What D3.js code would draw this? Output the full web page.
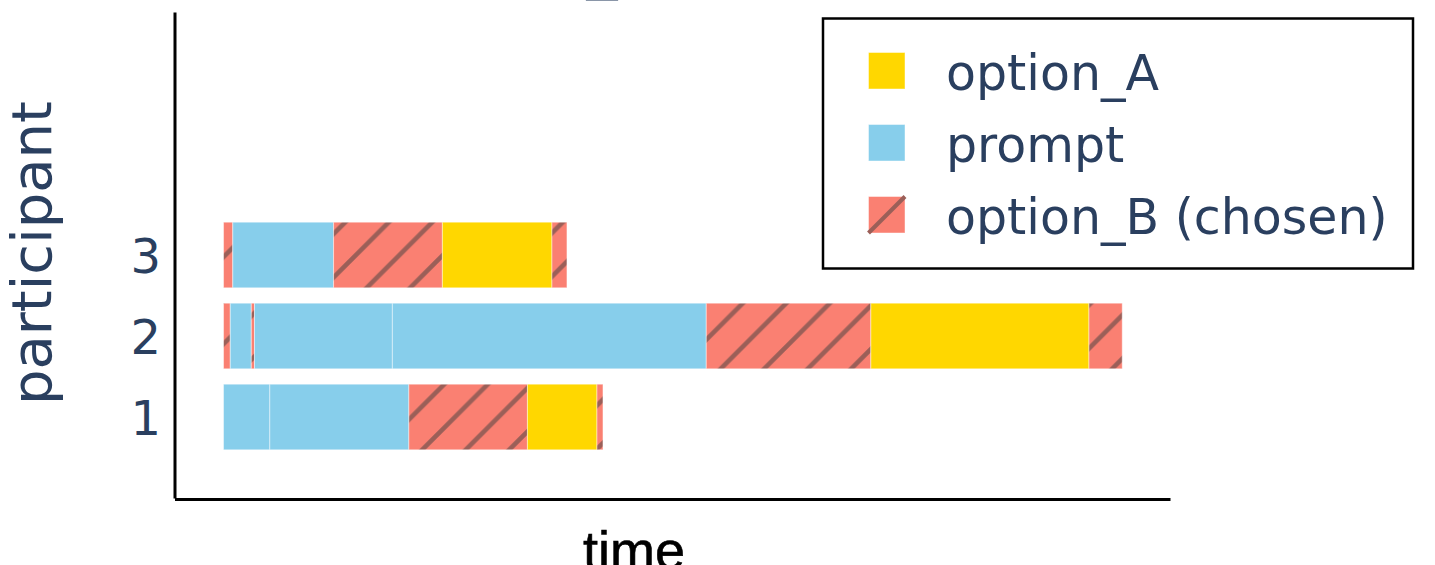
<!doctype html>
<html lang="en">
<head>
<meta charset="utf-8">
<title>participant timeline</title>
<style>
  body { margin: 0; background: #fff; }
  svg { display: block; }
  .axis text { font-family: "DejaVu Sans", Verdana, sans-serif; fill: #2a3f5f; }
</style>
<script src="https://d3js.org/d3.v7.min.js"></script>
</head>
<body>
<div id="chart"></div>
<script>
// participants on the y axis
var participants = [1, 2, 3];

// legend order and labels
var phases = ["option_A", "prompt", "option_B"];
var phaseLabels = ["option_A", "prompt", "option_B (chosen)"];
var phaseColors = ["#FFD700", "#87CEEB", "#FA8072"];

// one entry per segment (time in seconds)
var segParticipant = [3, 3, 3, 3, 3,
                      2, 2, 2, 2, 2, 2, 2, 2,
                      1, 1, 1, 1, 1];
var segPhase = ["option_B", "prompt", "option_B", "option_A", "option_B",
                "option_B", "prompt", "option_B", "prompt", "prompt", "option_B", "option_A", "option_B",
                "prompt", "prompt", "option_B", "option_A", "option_B"];
var segStart = [0, 0.37, 4.4, 8.75, 13.13,
                0, 0.27, 1.11, 1.24, 6.75, 19.3, 25.88, 34.6,
                0, 1.85, 7.41, 12.15, 14.93];
var segEnd = [0.37, 4.4, 8.75, 13.13, 13.73,
              0.27, 1.11, 1.24, 6.75, 19.3, 25.88, 34.6, 35.93,
              1.85, 7.41, 12.15, 14.93, 15.17];

var W = 1435, H = 565;

var svg = d3.select("#chart").append("svg")
  .attr("width", W)
  .attr("height", H);

// hatch for the chosen option
var defs = svg.append("defs");
var hatch = defs.append("pattern")
  .attr("id", "hatch")
  .attr("patternUnits", "userSpaceOnUse")
  .attr("width", 43.5)
  .attr("height", 43.5)
  .attr("x", 2);
hatch.append("rect").attr("width", 43.5).attr("height", 43.5).attr("fill", "#FA8072");
hatch.append("path")
  .attr("d", "M-5,48.5 L48.5,-5 M-5,5 L5,-5 M38.5,48.5 L48.5,38.5")
  .attr("stroke", "#9b5f58")
  .attr("stroke-width", 4.6);

function fillFor(p) {
  if (p == "option_B") return "url(#hatch)";
  return phaseColors[phases.indexOf(p)];
}

// scales
var x = d3.scaleLinear()
  .domain([-1.96, 37.84])
  .range([174.5, 1170]);

var y = d3.scaleLinear()
  .domain([0, 6])
  .range([498, 12]);

var barH = (y(0) - y(1)) * 0.81;

// partly visible title at the top edge
svg.append("text")
  .attr("x", 602)
  .attr("y", -14.3)
  .attr("text-anchor", "middle")
  .attr("font-family", "DejaVu Sans, Verdana, sans-serif")
  .attr("font-size", 62)
  .attr("fill", "#8a96a8")
  .text("_");

// bars
var segs = segStart.map(function(s, i) {
  return {p: segParticipant[i], phase: segPhase[i], start: s, end: segEnd[i]};
});

svg.append("g").selectAll("rect")
  .data(segs)
  .enter()
  .append("rect")
  .attr("x", function(d) { return x(d.start); })
  .attr("width", function(d) { return x(d.end) - x(d.start); })
  .attr("y", function(d) { return y(d.p) - barH / 2; })
  .attr("height", barH)
  .attr("fill", function(d) { return fillFor(d.phase); })
  .attr("stroke", "#fff")
  .attr("stroke-opacity", 0.45)
  .attr("stroke-width", 1);

// y axis
var yAxis = svg.append("g")
  .attr("class", "axis")
  .attr("transform", "translate(" + x.range()[0] + ",0)")
  .call(d3.axisLeft(y).tickValues(participants).tickSize(0).tickSizeOuter(0).tickPadding(13.5).tickFormat(d3.format("d")));
yAxis.select(".domain").attr("stroke", "#000").attr("stroke-width", 3);
yAxis.selectAll("text")
  .attr("font-size", 48)
  .attr("dy", "0.365em")
  .attr("font-family", null);

// x axis (line only)
var xAxis = svg.append("g")
  .attr("class", "axis")
  .attr("transform", "translate(0,499)")
  .call(d3.axisBottom(x).tickValues([]).tickSizeOuter(0));
xAxis.select(".domain").attr("stroke", "#000").attr("stroke-width", 3);

// axis titles
svg.append("text")
  .attr("transform", "translate(51,253) rotate(-90)")
  .attr("text-anchor", "middle")
  .attr("font-family", "DejaVu Sans, Verdana, sans-serif")
  .attr("font-size", 56)
  .attr("fill", "#2a3f5f")
  .text("participant");

svg.append("text")
  .attr("x", 634)
  .attr("y", 569)
  .attr("text-anchor", "middle")
  .attr("font-family", "Liberation Sans, Arial, sans-serif")
  .attr("font-size", 54)
  .attr("font-weight", 500)
  .attr("stroke", "#000")
  .attr("stroke-width", 0.6)
  .attr("fill", "#000")
  .text("time");

// legend
var legend = svg.append("g");
legend.append("rect")
  .attr("x", 823)
  .attr("y", 18.5)
  .attr("width", 590)
  .attr("height", 250)
  .attr("fill", "#fff")
  .attr("stroke", "#000")
  .attr("stroke-width", 2.5);

var item = legend.selectAll("g.item")
  .data(phases)
  .enter()
  .append("g")
  .attr("class", "item")
  .attr("transform", function(d, i) { return "translate(0," + (89.5 + i * 72) + ")"; });

item.append("rect")
  .attr("x", 868.5)
  .attr("y", -37)
  .attr("width", 36.5)
  .attr("height", 36.5)
  .attr("fill", function(d, i) { return phaseColors[i]; })
  .attr("stroke", "#fff")
  .attr("stroke-opacity", 0.45)
  .attr("stroke-width", 1);

item.filter(function(d) { return d == "option_B"; })
  .append("line")
  .attr("x1", 868.5).attr("y1", -0.5)
  .attr("x2", 905).attr("y2", -37)
  .attr("stroke", "#9b5f58")
  .attr("stroke-width", 4);

item.append("text")
  .attr("x", 946)
  .attr("y", 0)
  .attr("font-family", "DejaVu Sans, Verdana, sans-serif")
  .attr("font-size", 49)
  .attr("fill", "#2a3f5f")
  .text(function(d, i) { return phaseLabels[i]; });
</script>
</body>
</html>
